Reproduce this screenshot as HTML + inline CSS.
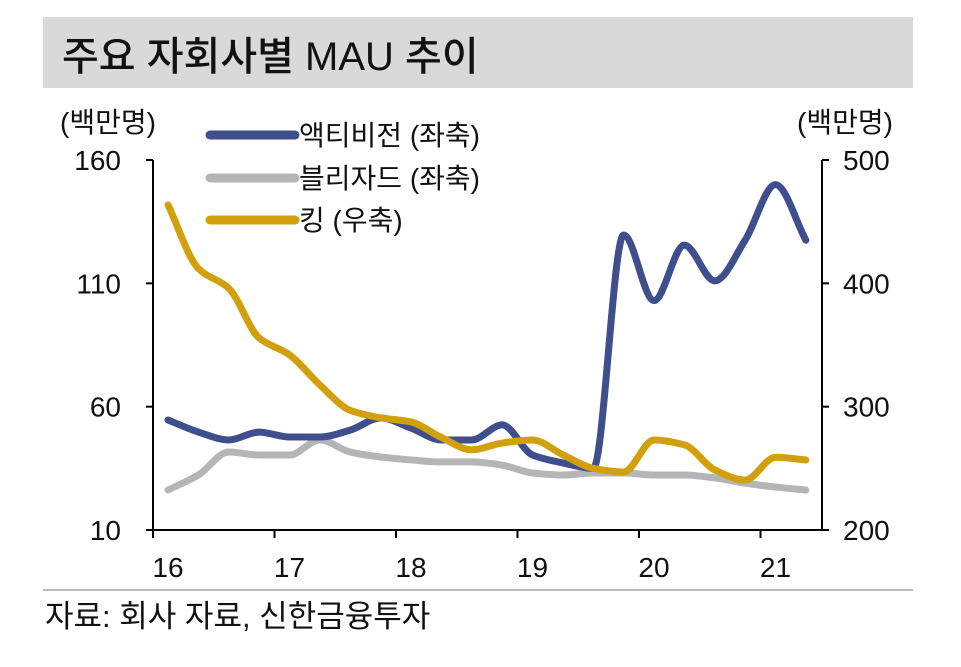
<!DOCTYPE html>
<html><head><meta charset="utf-8"><style>
body{margin:0;background:#fff;width:961px;height:662px;overflow:hidden;font-family:"Liberation Sans","Noto Sans CJK KR",sans-serif}
</style></head><body>
<svg width="961" height="662" style="font-family:'Liberation Sans','Noto Sans CJK KR',sans-serif">
<rect x="43" y="17" width="870" height="71" fill="#d9d9d9"/>
<text x="62" y="70" font-size="40" fill="#111" font-weight="500">주요 자회사별 MAU 추이</text>
<text x="60" y="132" font-size="28" fill="#111">(백만명)</text>
<text x="797" y="132" font-size="28" fill="#111">(백만명)</text>
<g id="legend"></g>
<g id="axes"></g>
<g id="series"></g>
<line x1="43" y1="590" x2="913" y2="590" stroke="#bbb" stroke-width="2"/>
<text x="45" y="627" font-size="31" fill="#111">자료: 회사 자료, 신한금융투자</text>
</svg>
<script>
const years=["16","17","18","19","20","21"];
const leftTicks=[10,60,110,160];
const rightTicks=[200,300,400,500];
const activision=[54.6,49.7,46.5,49.7,47.7,47.7,50.5,55.4,51.3,46.5,46.5,52.6,40.4,37.2,35,129.6,103,125.5,111,127.5,150,127.5];
const blizzard=[26.2,32.3,41.6,40.4,40.4,46.5,41.6,39.6,38.4,37.6,37.6,36.3,33.1,32.3,33.1,33.1,32.3,32.3,31.1,29,27.4,26.2];
const king=[463.6,412,396,355.7,342,317.6,297,291,287.6,275,265,270.5,273,261,250,247,273,269,248.7,240.5,259,256.8];
const NS="http://www.w3.org/2000/svg";
const x0=153,yearW=121.5,yTop=160,yBot=530;
const xq=i=>x0+15+i*yearW/4;
const yL=v=>yBot-(v-10)/150*(yBot-yTop);
const yR=v=>yBot-(v-200)/300*(yBot-yTop);
function mk(t,a,p){const e=document.createElementNS(NS,t);for(const k in a)e.setAttribute(k,a[k]);(p||document.getElementById('axes')).appendChild(e);return e;}
let l=mk('line',{x1:x0,y1:yTop,x2:x0,y2:yBot,stroke:'#000','stroke-width':2});


l=mk('line',{x1:822,y1:yTop,x2:822,y2:yBot,stroke:'#000','stroke-width':2});


l=mk('line',{x1:x0,y1:yBot,x2:822,y2:yBot,stroke:'#000','stroke-width':2});


leftTicks.forEach(v=>{mk('line',{x1:x0-7,y1:yL(v),x2:x0,y2:yL(v),stroke:'#000','stroke-width':2});
const t=mk('text',{x:121,y:yL(v)+10,'font-size':28,'text-anchor':'end',fill:'#111'});t.textContent=v;

});
rightTicks.forEach(v=>{mk('line',{x1:822,y1:yR(v),x2:829,y2:yR(v),stroke:'#000','stroke-width':2});
const t=mk('text',{x:843,y:yR(v)+10,'font-size':28,fill:'#111'});t.textContent=v;

});
years.forEach((y,i)=>{const x=x0+i*yearW;mk('line',{x1:x,y1:yBot,x2:x,y2:yBot+8,stroke:'#000','stroke-width':2});
const t=mk('text',{x:x+15,y:yBot+47,'font-size':28,'text-anchor':'middle',fill:'#111'});t.textContent=y;

});
function path(vals,yf){const p=vals.map((v,i)=>[xq(i),yf(v)]);const n=p.length;const h=p[1][0]-p[0][0];
const d0=[];for(let i=0;i<n-1;i++)d0.push((p[i+1][1]-p[i][1])/h);
const m=p.map((_,i)=>{if(i==0)return d0[0];if(i==n-1)return d0[n-2];const a=d0[i-1],b=d0[i];if(a*b<=0)return 0;return 2/(1/a+1/b);});
let d=`M${p[0][0]},${p[0][1]}`;
for(let i=0;i<n-1;i++){d+=` C${p[i][0]+h/3},${p[i][1]+m[i]*h/3} ${p[i+1][0]-h/3},${p[i+1][1]-m[i+1]*h/3} ${p[i+1][0]},${p[i+1][1]}`;}return d;}
const sg=document.getElementById('series');
const S=[[blizzard,yL,'#b5b5b5','blizzard-line'],[activision,yL,'#3f4e8c','activision-line'],[king,yR,'#d2a00c','king-line']];
S.forEach(s=>{const e=mk('path',{d:path(s[0],s[1]),fill:'none',stroke:s[2],'stroke-width':7,'stroke-linecap':'round','stroke-linejoin':'round'},sg);

});
const lg=document.getElementById('legend');
[['액티비전 (좌축)','#3f4e8c',135],['블리자드 (좌축)','#b5b5b5',178],['킹 (우축)','#d2a00c',220]].forEach(r=>{
const g=mk('g',{},lg);


mk('line',{x1:210,y1:r[2],x2:295,y2:r[2],stroke:r[1],'stroke-width':9,'stroke-linecap':'round'},g);
const t=mk('text',{x:299,y:r[2]+10,'font-size':28,fill:'#111'},g);t.textContent=r[0];});
</script>
</body></html>
